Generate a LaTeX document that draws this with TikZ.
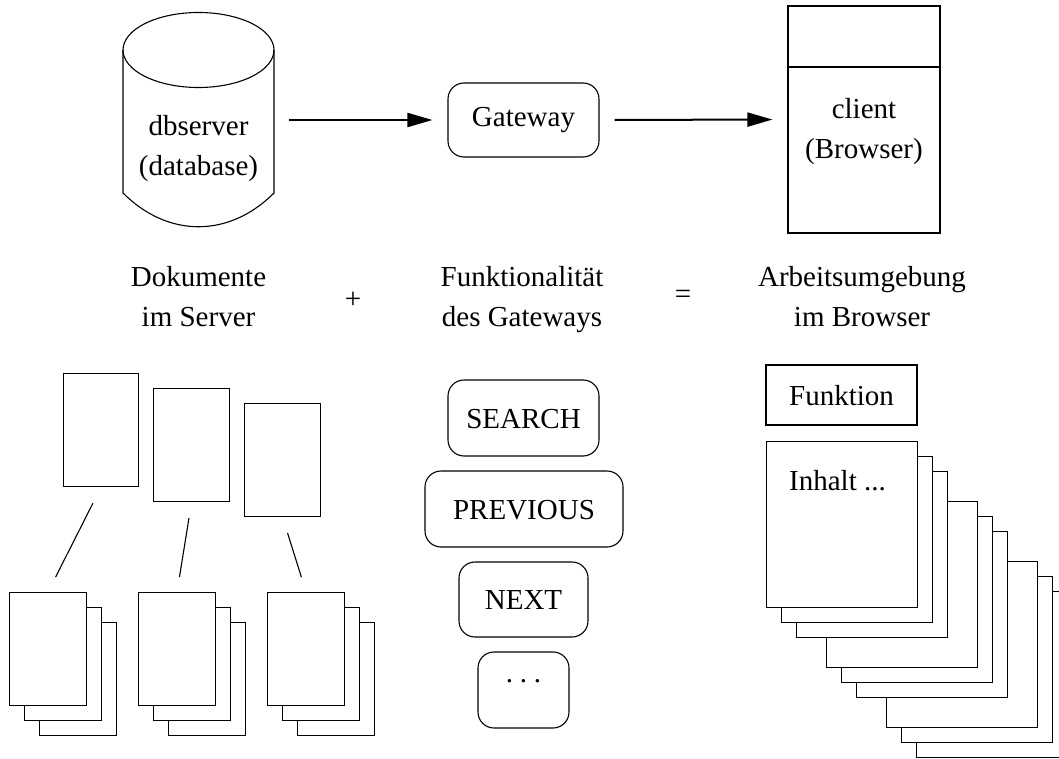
\documentclass[tikz,border=0pt]{standalone}
\usepackage{fontspec}
\setmainfont{Liberation Serif}
\usetikzlibrary{arrows.meta}
\begin{document}
\begin{tikzpicture}[x=1pt,y=-1pt,
  every node/.style={font=\fontsize{29pt}{40pt}\selectfont},
  ln/.style={line width=1.1pt},
  btn/.style={draw, ln, rounded corners=16pt, inner sep=0pt, text height=20pt, text depth=0pt},
  pg/.style={draw, ln, fill=white, inner sep=0pt, anchor=north west},
  flow/.style={line width=2pt, -{Triangle[length=25pt,width=14pt]}, shorten <=15pt, shorten >=15pt},
  lbl/.style={align=center, anchor=base},
]
\useasboundingbox (0,0) rectangle (1059,759);

% --- top row ---
\draw[ln] (123,50) -- (123,193) .. controls (168,238) and (229,238) .. (274,193) -- (274,50);
\draw[ln] (198.5,50) ellipse [x radius=75.5, y radius=37.5];
\node[minimum width=151pt, minimum height=214pt, inner sep=0pt] (db) at (198.5,120) {};
\node[lbl] (dbt) at (198.5,176) {dbserver\\(database)};

\node[btn, minimum width=151pt, minimum height=74pt, text depth=6pt] (gw) at (523.5,120) {Gateway};

\node[draw, ln, minimum width=152pt, minimum height=227pt, inner sep=0pt] (client) at (864,119.5) {};
\draw[ln] (client.west |- 0,67) -- (client.east |- 0,67);
\node[lbl] (clt) at (864,159) {client\\(Browser)};

\draw[flow] (db.east) -- (gw.west);
\draw[flow] (gw.east) -- (client.west);

% --- middle labels ---
\node[lbl] (doc) at (198.5,326) {Dokumente\\im Server};
\node (plus) at (353,300) {+};
\node[lbl] (fun) at (522,326) {Funktionalität\\des Gateways};
\node (eq) at (683,297) {=};
\node[lbl] (arb) at (862,326) {Arbeitsumgebung\\im Browser};

% --- bottom left: documents ---
\node[pg, minimum width=75pt, minimum height=113pt] (t1) at (63,373) {};
\node[pg, minimum width=76pt, minimum height=113pt] (t2) at (153,388) {};
\node[pg, minimum width=76pt, minimum height=113pt] (t3) at (244,403) {};
\foreach \sx/\n in {9/1,138/2,267/3}{
  \node[pg, minimum width=77pt, minimum height=113pt] (s\n c) at (\sx+30,622) {};
  \node[pg, minimum width=77pt, minimum height=113pt] (s\n b) at (\sx+15,607) {};
  \node[pg, minimum width=77pt, minimum height=113pt] (s\n) at (\sx,592) {};
}
\draw[ln, shorten <=18pt, shorten >=16.7pt] (t1.south) -- (s1.north);
\draw[ln, shorten <=16.2pt, shorten >=15.2pt] (t2.south) -- (s2.north);
\draw[ln, shorten <=16.7pt, shorten >=15.6pt] (t3.south) -- (s3.north);

% --- bottom middle: gateway functions ---
\node[btn, minimum width=151pt, minimum height=76pt] (search) at (523.5,418) {SEARCH};
\node[btn, minimum width=198pt, minimum height=76pt] (prev) at (524,509) {PREVIOUS};
\node[btn, minimum width=129pt, minimum height=75pt] (next) at (523.5,599.5) {NEXT};
\node[btn, minimum width=91pt, minimum height=76pt] (more) at (523.5,690) {\raisebox{18pt}{.\hspace{6.8pt}.\hspace{6.8pt}.}};

% --- bottom right: browser pages ---
\node[draw, ln, minimum width=151pt, minimum height=60pt, inner sep=0pt, text height=20pt, text depth=0pt] (funk) at (841.5,395) {Funktion};
\foreach \o in {150,135,120,90,75,60,30,15}{
  \node[pg, minimum width=151pt, minimum height=166pt] (p\o) at (766+\o,441+\o) {};
}
\node[pg, minimum width=151pt, minimum height=166pt] (inh) at (766,441) {};
\node[anchor=base west, inner sep=0pt] (inht) at (789,490) {Inhalt ...};
\end{tikzpicture}
\end{document}
